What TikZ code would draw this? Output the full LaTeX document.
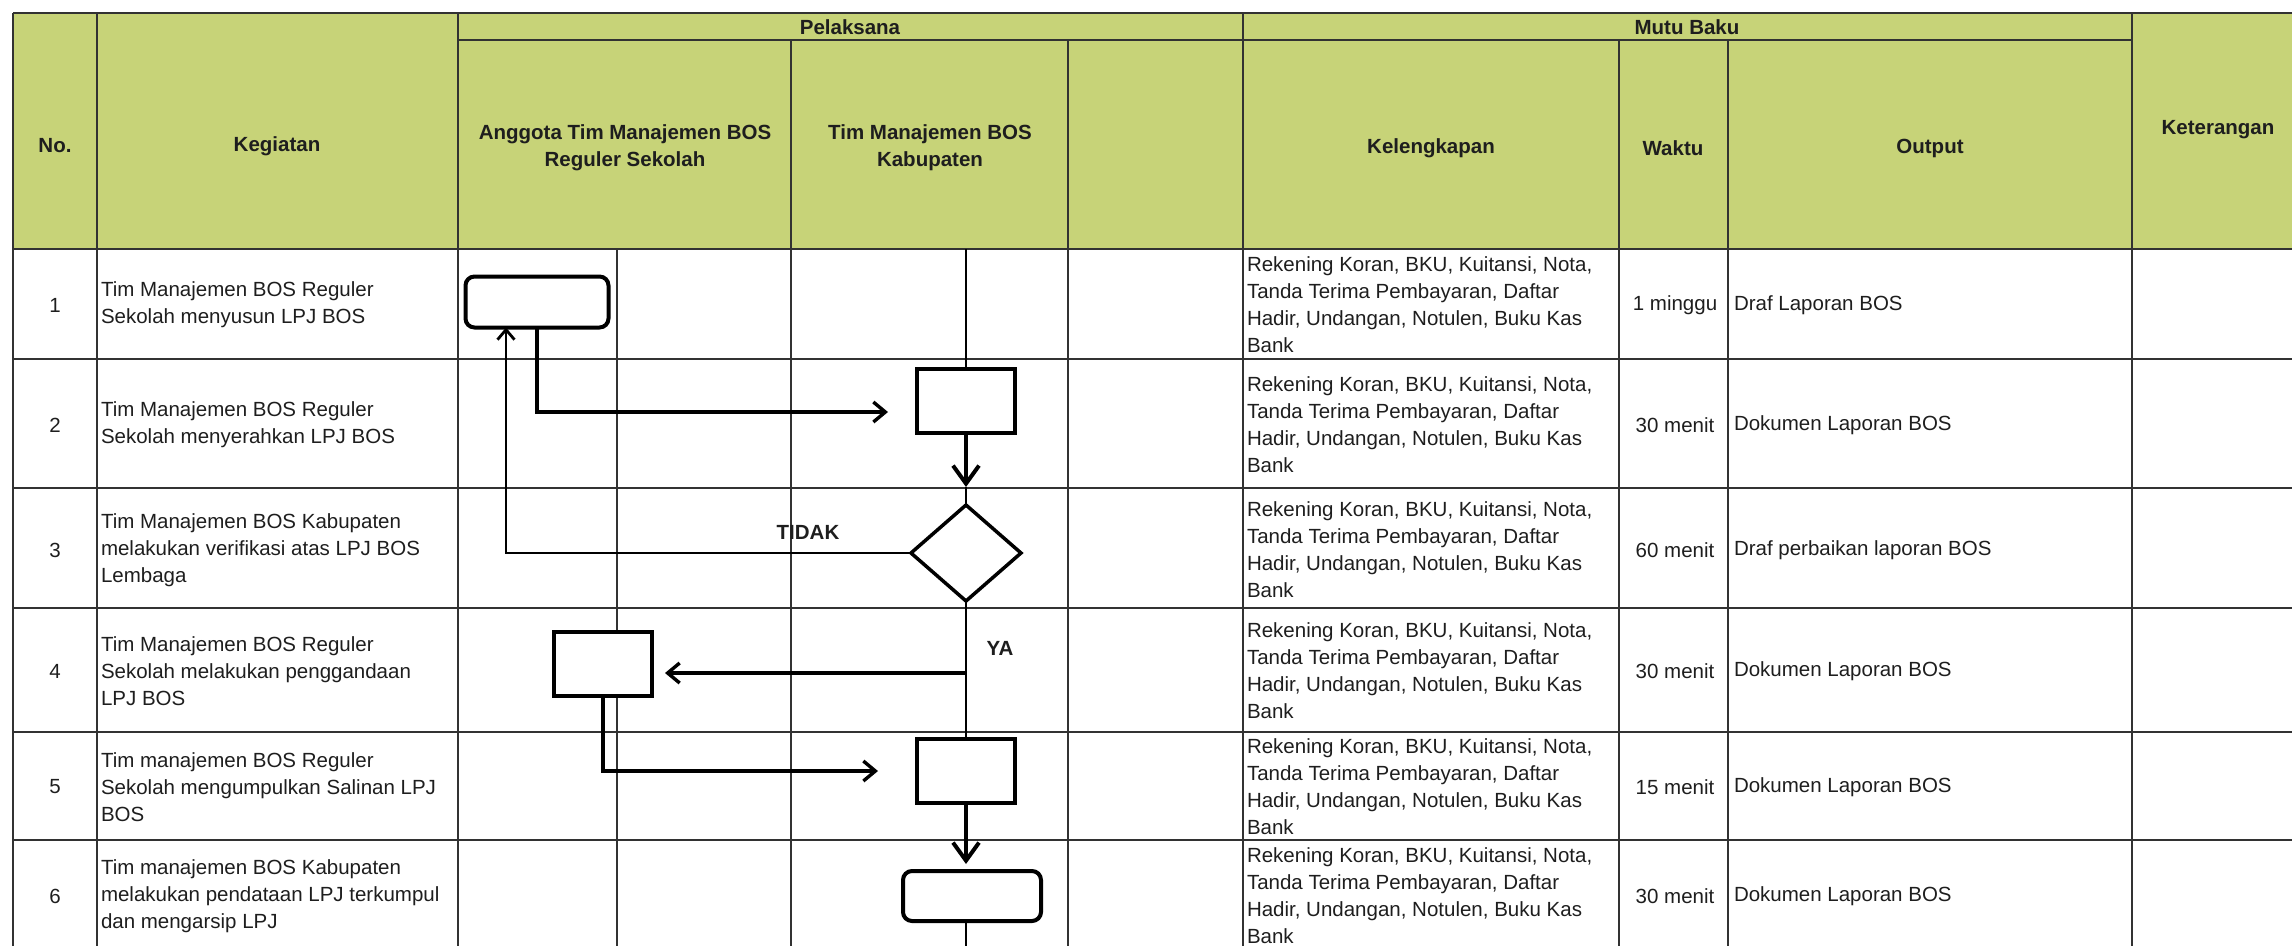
\documentclass[tikz,border=0pt]{standalone}
\usepackage{fontspec}
\setmainfont{Liberation Sans}
\usetikzlibrary{arrows.meta,shapes.geometric,calc}
\definecolor{hdr}{RGB}{199,211,120}
\definecolor{gridc}{RGB}{50,50,50}
\definecolor{txt}{RGB}{30,30,30}
\begin{document}
\begin{tikzpicture}[x=1pt,y=-1pt,
  every node/.style={inner sep=0pt, outer sep=0pt, text=txt, font=\fontsize{20.5}{27}\selectfont},
  hd/.style={font=\fontsize{20.5}{27}\selectfont\bfseries, align=center},
  keg/.style={anchor=west, align=left},
  vl/.style={draw=gridc, line width=1.6pt},
  hl/.style={draw=gridc, line width=2.6pt},
  bx/.style={draw=black, line width=4pt, fill=white, minimum width=98pt, minimum height=64pt},
  rbx/.style={bx, rounded corners=9pt},
  dm/.style={diamond, draw=black, line width=3.5pt, fill=white, minimum width=110pt, minimum height=96pt},
  thin/.style={draw=black, line width=1.8pt},
  flow/.style={draw=black, line width=3.4pt, -{Straight Barb[length=12pt,width=20pt,line width=3.4pt]}},
  flowbig/.style={draw=black, line width=4pt, -{Straight Barb[length=18pt,width=26pt,line width=4pt]}},
  flowret/.style={draw=black, line width=2.8pt, -{Straight Barb[length=10pt,width=17pt,line width=2.8pt]}},
  lbl/.style={font=\fontsize{20.5}{27}\selectfont\bfseries}
]
\useasboundingbox (0,0) rectangle (2292,946);
% header background
\fill[hdr] (13,13) rectangle (2292,249);
% vertical lines
\foreach \x in {13,97,458,1243,2132} \draw[vl] (\x,13) -- (\x,946);
\foreach \x in {791,1068,1619,1728} \draw[vl] (\x,40) -- (\x,946);
\draw[vl] (617,249) -- (617,946);
% horizontal lines
\draw[hl] (13,13) -- (2292,13);
\draw[hl] (458,40) -- (2132,40);
\foreach \y in {249,359,488,608,732,840} \draw[hl] (13,\y) -- (2292,\y);
% header texts
\node[hd] (hpel) at (850,27) {Pelaksana};
\node[hd] (hmut) at (1687,27) {Mutu Baku};
\node[hd] (hno) at (55,146) {No.};
\node[hd] (hkeg) at (277,146) {Kegiatan};
\node[hd] (hang) at (625,148) {Anggota Tim Manajemen BOS\\Reguler Sekolah};
\node[hd] (hkab) at (930,148) {Tim Manajemen BOS\\Kabupaten};
\node[hd] (hkel) at (1431,148) {Kelengkapan};
\node[hd] (hwak) at (1673,148) {Waktu};
\node[hd] (hout) at (1930,148) {Output};
\node[hd] (hket) at (2218,130) {Keterangan};
% row contents
\foreach \n/\yc/\keg/\wak/\out in {
  1/305/{Tim Manajemen BOS Reguler\\Sekolah menyusun LPJ BOS}/{1 minggu}/{Draf Laporan BOS},
  2/425/{Tim Manajemen BOS Reguler\\Sekolah menyerahkan LPJ BOS}/{30 menit}/{Dokumen Laporan BOS},
  3/550/{Tim Manajemen BOS Kabupaten\\melakukan verifikasi atas LPJ BOS\\Lembaga}/{60 menit}/{Draf perbaikan laporan BOS},
  4/671/{Tim Manajemen BOS Reguler\\Sekolah melakukan penggandaan\\LPJ BOS}/{30 menit}/{Dokumen Laporan BOS},
  5/787/{Tim manajemen BOS Reguler\\Sekolah mengumpulkan Salinan LPJ\\BOS}/{15 menit}/{Dokumen Laporan BOS},
  6/896/{Tim manajemen BOS Kabupaten\\melakukan pendataan LPJ terkumpul\\dan mengarsip LPJ}/{30 menit}/{Dokumen Laporan BOS}} {
  \node (no\n) at (55,\yc) {\n};
  \node[keg] (keg\n) at (101,\yc) {\keg};
  \node[keg] (kel\n) at (1247,\yc) {Rekening Koran, BKU, Kuitansi, Nota,\\Tanda Terima Pembayaran, Daftar\\Hadir, Undangan, Notulen, Buku Kas\\Bank};
  \node (wak\n) at (1675,\yc) {\wak};
  \node[keg] (out\n) at (1734,\yc) {\out};
}
% flow shapes
\node[rbx, minimum width=143pt, minimum height=51pt] (s1) at (537,302) {};
\node[bx] (s2) at (966,401) {};
\node[dm] (d3) at (966,553) {};
\node[bx] (s4) at (603,664) {};
\node[bx] (s5) at (966,771) {};
\node[rbx, minimum width=138pt, minimum height=50pt] (s6) at (972,896) {};
% free ends
\coordinate (top2) at (966,249);
\coordinate (a12) at (888,412);
\coordinate (t23) at (966,487);
\coordinate (ya) at (966,673);
\coordinate (bot) at (966,946);
% connectors
\draw[thin] (top2) -- (s2.north);
\draw[flow] (s1.south) |- (a12);
\draw[thin] (t23) -- (d3.north);
\draw[flowbig] (s2.south) -- (t23);
\draw[flowret] (d3.west) -| ([xshift=-31pt]s1.south);
\draw[thin] (d3.south) -- (s5.north);
\draw[flow, shorten >=13pt] (ya) -- (ya -| s4.east);
\draw[flow, shorten >=39pt] (s4.south) |- (s5.west);
\draw[flowbig, shorten >=7pt] (s5.south) -- (s5.south |- s6.north);
\draw[thin] (s5.south |- s6.south) -- (bot);
% labels
\node[lbl] (ltidak) at (808,532) {TIDAK};
\node[lbl] (lya) at (1000,648) {YA};
\end{tikzpicture}
\end{document}
